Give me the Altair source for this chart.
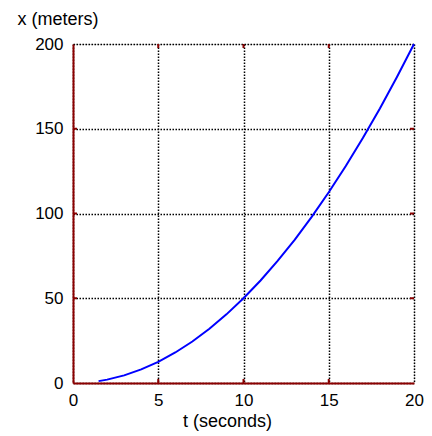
import altair as alt
import pandas as pd

t_vals = [1.5, 2, 3, 4, 5, 6, 7, 8, 9, 10, 11, 12, 13, 14, 15, 16, 17, 18, 19, 20]
x_vals = [1.1, 2, 4.5, 8, 12.5, 18, 24.5, 32, 40.5, 50, 60.5, 72, 84.5, 98, 112.5, 128, 144.5, 162, 180.5, 200]
x_ticks = [0, 5, 10, 15, 20]
y_ticks = [0, 50, 100, 150, 200]

W, H = 341, 339
RED = "#8B0000"

df = pd.DataFrame({"t": t_vals, "x": x_vals})
xt = pd.DataFrame({"v": x_ticks[1:-1]})
yt = pd.DataFrame({"v": y_ticks[1:-1]})

xscale = alt.Scale(domain=[0, 20], nice=False)
yscale = alt.Scale(domain=[0, 200], nice=False)

font = "Liberation Sans"

line = alt.Chart(df).mark_line(color="#0000FF", strokeWidth=2).encode(
    x=alt.X("t:Q", scale=xscale, axis=alt.Axis(
        values=x_ticks, title="t (seconds)", grid=True, gridColor="black",
        gridDash=[1.5, 1.5], gridWidth=1.5, gridOpacity=1,
        ticks=False, labelPadding=9, labelFontSize=17, labelColor="black",
        labelFlush=False, labelFont=font, titleFont=font, titleFontSize=18,
        titleFontWeight="normal", titleColor="black", titleAlign="center",
        titleBaseline="alphabetic", titleX=154, titleY=43,
        domainColor=RED, domainWidth=2)),
    y=alt.Y("x:Q", scale=yscale, axis=alt.Axis(
        values=y_ticks, title="x (meters)", grid=True, gridColor="black",
        gridDash=[1.5, 1.5], gridWidth=1.5, gridOpacity=1,
        ticks=False, labelPadding=10, labelFontSize=17, labelColor="black",
        labelFlush=False, labelFont=font, titleFont=font, titleFontSize=18,
        titleFontWeight="normal", titleColor="black", titleAngle=0,
        titleAlign="left", titleBaseline="alphabetic", titleX=-56, titleY=-20,
        domainColor=RED, domainWidth=2)),
)

tb = alt.Chart(xt).mark_rule(color=RED, strokeWidth=2).encode(
    x=alt.X("v:Q", scale=xscale), y=alt.value(H), y2=alt.value(H - 4))
tt = alt.Chart(xt).mark_rule(color=RED, strokeWidth=2).encode(
    x=alt.X("v:Q", scale=xscale), y=alt.value(0), y2=alt.value(4))
tl = alt.Chart(yt).mark_rule(color=RED, strokeWidth=2).encode(
    y=alt.Y("v:Q", scale=yscale), x=alt.value(0), x2=alt.value(4))
tr = alt.Chart(yt).mark_rule(color=RED, strokeWidth=2).encode(
    y=alt.Y("v:Q", scale=yscale), x=alt.value(W), x2=alt.value(W - 4))

chart = alt.layer(line, tb, tt, tl, tr).properties(
    width=W, height=H,
    autosize=alt.AutoSizeParams(type="none"),
    padding={"left": 65, "top": 36, "right": 10, "bottom": 50},
).configure_view(stroke=RED, strokeWidth=2).configure(background="white")

chart.save("out.html", embed_options={"renderer": "svg", "actions": False})
